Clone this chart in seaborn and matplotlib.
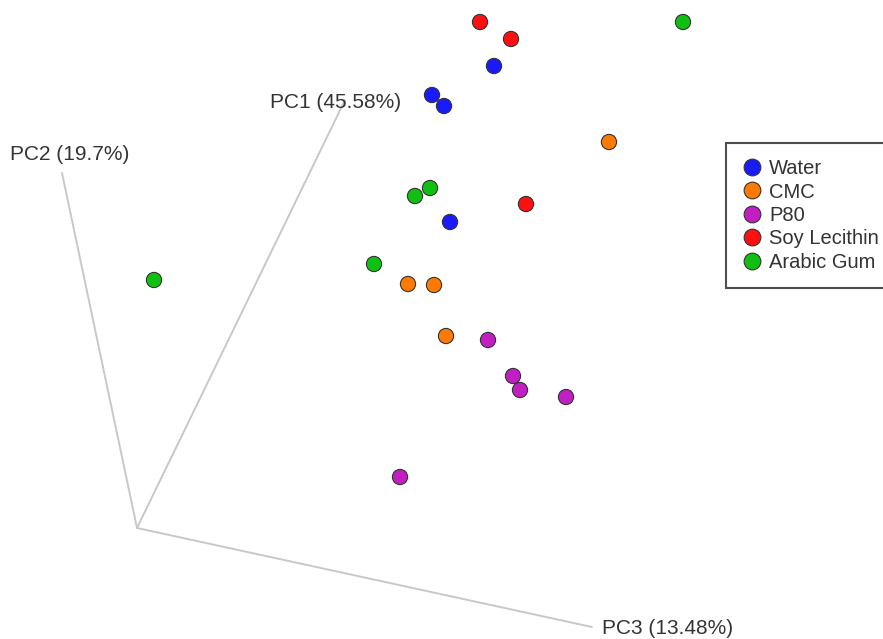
import pandas as pd
import matplotlib.pyplot as plt
import seaborn as sns

# projected PCoA coordinates (screen space of the 3D view)
groups = ["Water", "CMC", "P80", "Soy Lecithin", "Arabic Gum"]

water_x = [432, 444, 494, 450]
water_y = [95, 106, 66, 222]

cmc_x = [609, 408, 434, 446]
cmc_y = [142, 284, 285, 336]

p80_x = [488, 513, 520, 566, 400]
p80_y = [340, 376, 390, 397, 477]

soy_x = [480, 511, 526]
soy_y = [22, 39, 204]

gum_x = [683, 415, 430, 374, 154]
gum_y = [22, 196, 188, 264, 280]

axis_labels = ["PC1 (45.58%)", "PC2 (19.7%)", "PC3 (13.48%)"]

palette = {
    "Water": "#1a1aff",
    "CMC": "#ff7a00",
    "P80": "#c21fc2",
    "Soy Lecithin": "#ff1010",
    "Arabic Gum": "#10c010",
}

# --------------------------

xs = [water_x, cmc_x, p80_x, soy_x, gum_x]
ys = [water_y, cmc_y, p80_y, soy_y, gum_y]

rows = []
for g, gx, gy in zip(groups, xs, ys):
    for a, b in zip(gx, gy):
        rows.append({"x": a, "y": b, "group": g})
df = pd.DataFrame(rows)

sns.set_style("white")
plt.rcParams["font.family"] = ["Liberation Sans", "DejaVu Sans"]

fig = plt.figure(figsize=(8.83, 6.39), dpi=100)
ax = fig.add_axes([0, 0, 1, 1])
ax.set_xlim(0, 883)
ax.set_ylim(639, 0)
ax.axis("off")

# axis triad of the 3D view
origin = (137, 528)
ends = [(345, 100), (62, 173), (592, 627)]
for e in ends:
    ax.plot([origin[0], e[0]], [origin[1], e[1]], color="#c8c8c8", lw=1.4, zorder=1)

ax.text(270, 103, axis_labels[0], fontsize=15, color="#333333", va="center")
ax.text(10, 155, axis_labels[1], fontsize=15, color="#333333", va="center")
ax.text(602, 628, axis_labels[2], fontsize=15, color="#333333", va="center")

sns.scatterplot(
    data=df,
    x="x",
    y="y",
    hue="group",
    hue_order=groups,
    palette=palette,
    s=120,
    edgecolor="#333333",
    linewidth=0.8,
    ax=ax,
    zorder=3
)

leg = ax.legend(
    loc="upper left",
    bbox_to_anchor=(726 / 883, 1 - 143 / 639),
    borderaxespad=0,
    frameon=True,
    fancybox=False,
    fontsize=14.5,
    handletextpad=0.35,
    borderpad=0.8,
    labelspacing=0.22,
    handlelength=1.0,
    markerscale=1.1
)
leg.get_frame().set_edgecolor("#222222")
leg.get_frame().set_linewidth(1.5)
for t in leg.get_texts():
    t.set_color("#333333")

plt.savefig("out.png", dpi=100)
